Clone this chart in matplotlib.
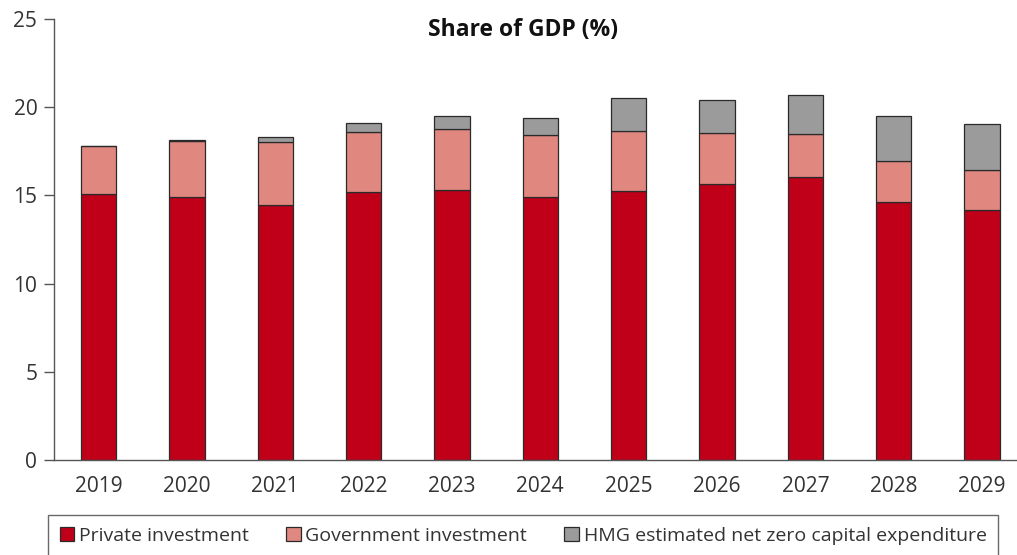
import matplotlib
matplotlib.use("Agg")
import matplotlib.pyplot as plt
import numpy as np

plt.rcParams['font.family'] = ['Open Sans', 'DejaVu Sans']

years = ["2019", "2020", "2021", "2022", "2023", "2024", "2025", "2026", "2027", "2028", "2029"]
private_inv = [15.10, 14.93, 14.45, 15.17, 15.32, 14.93, 15.24, 15.64, 16.04, 14.64, 14.19]
government_inv = [2.73, 3.14, 3.59, 3.43, 3.43, 3.50, 3.44, 2.93, 2.45, 2.32, 2.26]
hmg_net_zero = [0.00, 0.10, 0.26, 0.49, 0.74, 0.98, 1.88, 1.85, 2.19, 2.53, 2.59]

series_labels = ["Private investment", "Government investment",
                 "HMG estimated net zero capital expenditure"]
colors = ["#C00018", "#E08880", "#9B9B9B"]
text_color = "#333333"

fig = plt.figure(figsize=(10.17, 5.55), dpi=100)
ax = fig.add_axes([54 / 1017, 1 - 459.7 / 555, 1 - 54 / 1017, (459.7 - 19.3) / 555])

x = np.arange(len(years))
bottom = np.zeros(len(years))
handles = []
for vals, col, lab in zip([private_inv, government_inv, hmg_net_zero], colors, series_labels):
    vals = np.array(vals)
    b = ax.bar(x, vals, width=0.4, bottom=bottom, color=col,
               edgecolor="#2a2a2a", linewidth=0.9, label=lab)
    handles.append(b)
    bottom = bottom + vals

ax.set_xlim(-0.504, 10.396)
ax.set_ylim(0, 25)
ax.set_yticks([0, 5, 10, 15, 20, 25])
ax.set_xticks(x)
ax.set_xticklabels(years)

for side in ["top", "right"]:
    ax.spines[side].set_visible(False)
for side in ["left", "bottom"]:
    ax.spines[side].set_color("#555555")
    ax.spines[side].set_linewidth(1.0)

ax.tick_params(axis="y", direction="out", length=7, width=1.0, color="#555555",
               labelsize=15, labelcolor=text_color, pad=5)
ax.tick_params(axis="x", length=0, labelsize=15, labelcolor=text_color, pad=12)

# Title centred over the bars
ax.text(4.80, 1.004, "Share of GDP (%)", transform=ax.get_xaxis_transform(),
        ha="center", va="top", fontsize=16.5, fontweight="bold", color="#111111")

leg = fig.legend(handles=handles, labels=series_labels, ncol=3,
                 loc="upper left", bbox_to_anchor=(48 / 1017, 40 / 555),
                 borderaxespad=0.0,
                 frameon=True, fancybox=False, fontsize=14,
                 handlelength=0.75, handleheight=0.75, handletextpad=0.25,
                 columnspacing=1.9, borderpad=0.6, labelcolor=text_color)
leg.get_frame().set_edgecolor("#444444")
leg.get_frame().set_linewidth(1.0)

fig.savefig("out.png", dpi=100)
